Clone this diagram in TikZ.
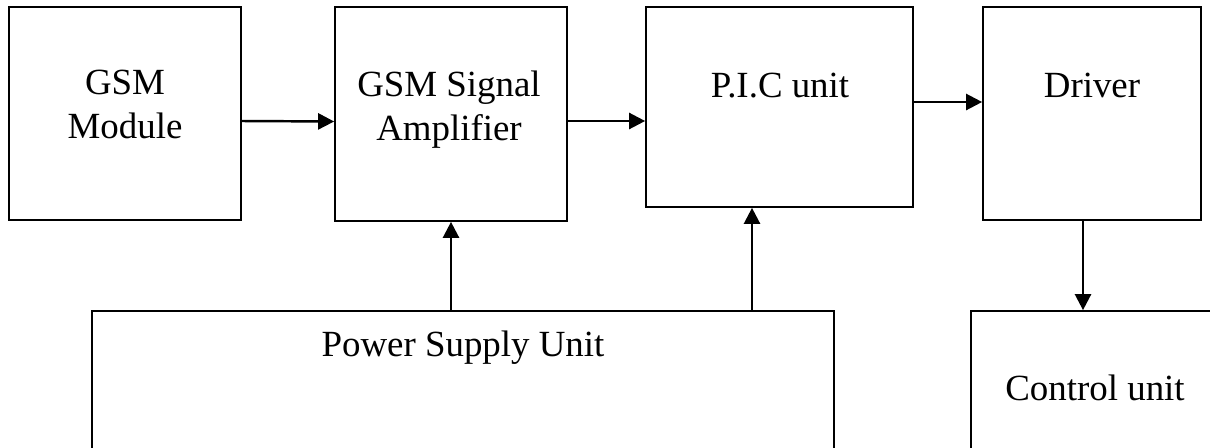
\documentclass[tikz,border=0pt]{standalone}
\usepackage{fontspec}
\setmainfont{Liberation Serif}
\usetikzlibrary{arrows.meta,positioning,calc}

\begin{document}
\begin{tikzpicture}[x=0.02cm, y=-0.02cm,
    blk/.style={draw, line width=1pt, inner sep=0pt},
    lbl/.style={font=\fontsize{21}{24.5}\selectfont, align=center, inner sep=0pt, anchor=base},
    arr/.style={line width=1.4pt, -{Triangle[length=0.32cm, width=0.32cm]}}]
    % frame
    \clip (0,0) rectangle (1210,447);
    \fill[white] (0,0) rectangle (1210,447);

    % top row
    \node[blk, minimum width=4.64cm, minimum height=4.26cm] (gsm) at (125,113.5) {};
    \node[blk, minimum width=4.64cm, minimum height=4.28cm] (amp) at (451,114) {};
    \node[blk, minimum width=5.34cm, minimum height=4cm] (pic) at (779.5,107) {};
    \node[blk, minimum width=4.36cm, minimum height=4.26cm] (drv) at (1092,113.5) {};

    % bottom row
    \node[blk, minimum width=14.84cm, minimum height=3.6cm] (psu) at (463,401) {};
    \node[blk, minimum width=5.38cm, minimum height=3.6cm] (ctl) at (1105.5,401) {};

    % labels (base = last line)
    \node[lbl] (tgsm) at (125,138) {GSM\\Module};
    \node[lbl] (tamp) at (449,140) {GSM Signal\\Amplifier};
    \node[lbl] (tpic) at (780,97) {P.I.C unit};
    \node[lbl] (tdrv) at (1092,97) {Driver};
    \node[lbl] (tpsu) at (463,356) {Power Supply Unit};
    \node[lbl] (tctl) at (1095,400) {Control unit};

    % signal path
    \draw[arr] ([yshift=-0.15cm]gsm.east) -- ([yshift=-0.15cm]amp.west);
    \draw[arr] ([yshift=-0.14cm]amp.east) -- ([yshift=-0.14cm]amp.east -| pic.west);
    \draw[arr] ([yshift=0.1cm]pic.east) -- ([yshift=0.1cm]pic.east -| drv.west);
    \draw[arr] ([xshift=-0.18cm]drv.south) -- ([xshift=-0.18cm]drv.south |- ctl.north);

    % supply lines
    \draw[arr] (psu.north -| amp.south) -- (amp.south);
    \draw[arr] ([xshift=-0.55cm]pic.south |- psu.north) -- ([xshift=-0.55cm]pic.south);
\end{tikzpicture}
\end{document}
